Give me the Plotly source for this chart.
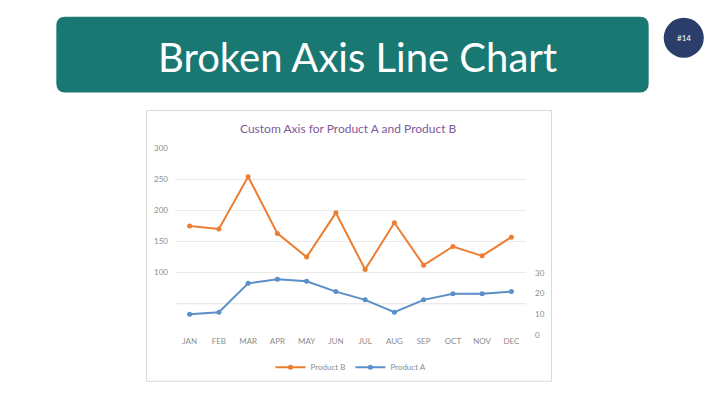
import plotly.graph_objects as go

months = ["JAN", "FEB", "MAR", "APR", "MAY", "JUN", "JUL", "AUG", "SEP", "OCT", "NOV", "DEC"]
product_b = [175, 170, 254, 163, 125, 196, 105, 180, 112, 142, 127, 157]
product_a = [10, 11, 25, 27, 26, 21, 17, 11, 17, 20, 20, 21]
left_ticks = [0, 50, 100, 150, 200, 250, 300]
left_text = ["", "", "100", "150", "200", "250", "300"]
right_ticks = [0, 10, 20, 30]

W, H = 720, 404
L, R, T, B = 175.4, 525.6, 147.7, 335.5


def px(x):
    return (x - L) / (R - L)


def py(y):
    return (B - y) / (B - T)


def rounded_rect(x0, y0, x1, y1, r):
    rx = r / (R - L)
    ry = r / (B - T)
    X0, X1 = px(x0), px(x1)
    Y0, Y1 = py(y0), py(y1)  # Y0 top (larger), Y1 bottom
    return (f"M {X0+rx},{Y0} L {X1-rx},{Y0} Q {X1},{Y0} {X1},{Y0-ry} "
            f"L {X1},{Y1+ry} Q {X1},{Y1} {X1-rx},{Y1} L {X0+rx},{Y1} "
            f"Q {X0},{Y1} {X0},{Y1+ry} L {X0},{Y0-ry} Q {X0},{Y0} {X0+rx},{Y0} Z")


orange = "#ED7D31"
blue = "#5B8FC7"

fig = go.Figure()
fig.add_trace(go.Scatter(x=months, y=product_b, name="Product B", mode="lines+markers",
                         line=dict(color=orange, width=2), marker=dict(size=5, color=orange),
                         yaxis="y"))
fig.add_trace(go.Scatter(x=months, y=product_a, name="Product A", mode="lines+markers",
                         line=dict(color=blue, width=2), marker=dict(size=5, color=blue),
                         yaxis="y2"))

shapes = [
    # chart box
    dict(type="rect", xref="paper", yref="paper", x0=px(147), x1=px(551), y0=py(110), y1=py(382),
         line=dict(color="#d9d9d9", width=1), fillcolor="white", layer="below"),
    # teal title box
    dict(type="path", xref="paper", yref="paper", path=rounded_rect(57, 16, 648, 92, 9),
         fillcolor="#1A7873", line=dict(width=0), layer="below"),
    # badge
    dict(type="circle", xref="paper", yref="paper", x0=px(663), x1=px(703), y0=py(17), y1=py(57),
         fillcolor="#2B3D6B", line=dict(width=0), layer="below"),
    # faint orange break line at 50
    dict(type="line", xref="paper", yref="y", x0=0, x1=1, y0=50, y1=50,
         line=dict(color="#FBE3D0", width=1), layer="below"),
]

annotations = [
    dict(text="Broken Axis Line Chart", xref="paper", yref="paper", x=px(357), y=py(56),
         showarrow=False, font=dict(family="Lato", size=40, color="white"),
         xanchor="center", yanchor="middle"),
    dict(text="#14", xref="paper", yref="paper", x=px(683), y=py(37), showarrow=False,
         font=dict(family="Lato", size=8, color="white"), xanchor="center", yanchor="middle"),
    dict(text="Custom Axis for Product A and Product B", xref="paper", yref="paper",
         x=px(349), y=py(128), showarrow=False,
         font=dict(family="Lato", size=12, color="#7E5A9B"), xanchor="center", yanchor="middle"),
]

fig.update_layout(
    width=W, height=H,
    margin=dict(l=L, r=W - R, t=T, b=H - B),
    paper_bgcolor="white", plot_bgcolor="rgba(0,0,0,0)",
    font=dict(family="Lato", size=8, color="#8c8c8c"),
    shapes=shapes, annotations=annotations,
    showlegend=True,
    legend=dict(orientation="h", x=px(351), y=py(368), xanchor="center", yanchor="middle",
                font=dict(size=8, color="#8c8c8c"), bgcolor="rgba(0,0,0,0)", itemwidth=30),
    xaxis=dict(range=[-0.5, 11.5], showgrid=False, zeroline=False, showline=False, ticks="",
               tickfont=dict(size=8, color="#8c8c8c")),
    yaxis=dict(range=[0, 300], tickvals=left_ticks, ticktext=left_text, showgrid=True,
               gridcolor="#ebebeb", gridwidth=1, zeroline=False, showline=False, ticks="",
               ticklabelstandoff=6, tickfont=dict(size=8, color="#8c8c8c")),
    yaxis2=dict(range=[0, 90.5], tickvals=right_ticks, overlaying="y", side="right",
                showgrid=False, zeroline=False, showline=False, ticks="",
                ticklabelstandoff=8, tickfont=dict(size=8, color="#8c8c8c")),
)

fig.write_html("out.html")
